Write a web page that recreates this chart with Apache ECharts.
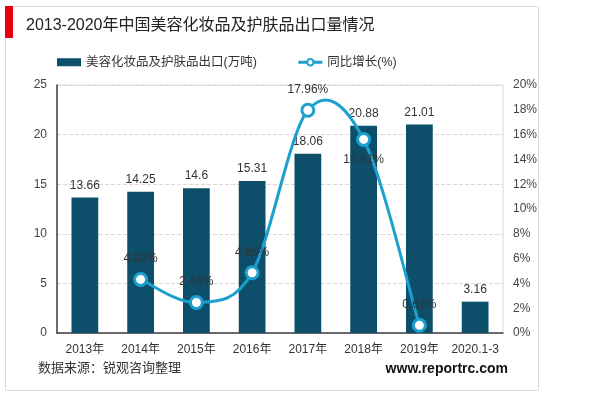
<!DOCTYPE html>
<html>
<head>
<meta charset="utf-8">
<script src="https://cdn.jsdelivr.net/npm/echarts@6/dist/echarts.min.js"></script>
<style>
  html, body { margin: 0; padding: 0; background: #fff; }
  #chart { width: 600px; height: 396px; }
</style>
</head>
<body>
<div id="chart"></div>
<script>
var categories = ['2013年', '2014年', '2015年', '2016年', '2017年', '2018年', '2019年', '2020.1-3'];
var exportValues = [13.66, 14.25, 14.6, 15.31, 18.06, 20.88, 21.01, 3.16];
var growthValues = ['-', 4.32, 2.46, 4.86, 17.96, 15.61, 0.62, '-'];
var growthLabelPos = ['top', 'top', 'top', 'top', 'top', 'bottom', 'top', 'top'];
var leftTicks = { min: 0, max: 25, interval: 5 };
var rightTicks = { min: 0, max: 20, interval: 2 };

var FONT = '"Liberation Sans", "Noto Sans CJK SC", sans-serif';
var barColor = '#0d4f6b';
var lineColor = '#1ca0cf';

var chart = echarts.init(document.getElementById('chart'));

function hasVal(i) {
  return i >= 0 && i < growthValues.length && typeof growthValues[i] === 'number';
}

// 折线标签位置
var growthData = growthValues.map(function(v, i) {
  return { value: v, label: { position: growthLabelPos[i] } };
});

// 平滑曲线段 (Catmull-Rom 转贝塞尔)，坐标全部经由坐标轴换算
function renderCurve(params, api) {
  var i = params.dataIndex;
  if (!hasVal(i) || !hasVal(i + 1)) return;
  var p1 = api.coord([i, growthValues[i]]);
  var p2 = api.coord([i + 1, growthValues[i + 1]]);
  var p0 = hasVal(i - 1) ? api.coord([i - 1, growthValues[i - 1]]) : p1;
  var p3 = hasVal(i + 2) ? api.coord([i + 2, growthValues[i + 2]]) : p2;
  return {
    type: 'bezierCurve',
    shape: {
      x1: p1[0], y1: p1[1],
      x2: p2[0], y2: p2[1],
      cpx1: p1[0] + (p2[0] - p0[0]) / 6, cpy1: p1[1] + (p2[1] - p0[1]) / 6,
      cpx2: p2[0] - (p3[0] - p1[0]) / 6, cpy2: p2[1] - (p3[1] - p1[1]) / 6
    },
    style: { fill: 'none', stroke: lineColor, lineWidth: 3 }
  };
}

var option = {
  backgroundColor: '#fff',
  textStyle: { fontFamily: FONT },
  graphic: [
    { type: 'rect', shape: { x: 5.5, y: 6.5, width: 533, height: 384 },
      style: { fill: 'none', stroke: '#dcdcdc', lineWidth: 1 } },
    { type: 'rect', shape: { x: 5, y: 6, width: 8, height: 32 },
      style: { fill: '#e60012' } },
    { type: 'text', left: 26, top: 18,
      style: { text: '2013-2020年中国美容化妆品及护肤品出口量情况', fill: '#222',
        font: '16px ' + FONT } },
    { type: 'text', left: 38, top: 362,
      style: { text: '数据来源：锐观咨询整理', fill: '#333', font: '13px ' + FONT } },
    { type: 'text', right: 92, top: 362,
      style: { text: 'www.reportrc.com', fill: '#111', font: 'bold 14px ' + FONT } }
  ],
  legend: {
    left: 52,
    top: 51,
    itemGap: 40,
    itemWidth: 24,
    itemHeight: 8,
    textStyle: { fontSize: 12.5, color: '#333', fontFamily: FONT },
    data: [
      { name: '美容化妆品及护肤品出口(万吨)', icon: 'rect' },
      { name: '同比增长(%)', lineStyle: { color: lineColor, width: 3, opacity: 1 } }
    ]
  },
  grid: {
    left: 57,
    right: 97,
    top: 85,
    bottom: 63,
    show: true,
    borderColor: '#d9d9d9',
    borderWidth: 1
  },
  xAxis: {
    type: 'category',
    data: categories,
    axisLine: { lineStyle: { color: '#404040', width: 1.5 } },
    axisTick: { show: false },
    axisLabel: { color: '#333', fontSize: 12, margin: 11, interval: 0 }
  },
  yAxis: [
    {
      type: 'value',
      min: leftTicks.min,
      max: leftTicks.max,
      interval: leftTicks.interval,
      axisLine: { show: true, lineStyle: { color: '#404040', width: 1.5 } },
      axisTick: { show: false },
      axisLabel: { color: '#444', fontSize: 12, margin: 10 },
      splitLine: { lineStyle: { color: '#d9d9d9', type: 'dashed' } }
    },
    {
      type: 'value',
      min: rightTicks.min,
      max: rightTicks.max,
      interval: rightTicks.interval,
      axisLine: { show: false },
      axisTick: { show: false },
      axisLabel: { color: '#444', fontSize: 12, margin: 10, formatter: '{value}%' },
      splitLine: { show: false }
    }
  ],
  series: [
    {
      name: '美容化妆品及护肤品出口(万吨)',
      type: 'bar',
      data: exportValues,
      barWidth: '48%',
      itemStyle: { color: barColor },
      label: { show: true, position: 'top', color: '#333', fontSize: 12, distance: 6 }
    },
    {
      name: 'growthCurve',
      type: 'custom',
      yAxisIndex: 1,
      renderItem: renderCurve,
      data: growthValues.map(function(v, i) { return [i, hasVal(i) ? v : 0]; }),
      silent: true,
      z: 3
    },
    {
      name: '同比增长(%)',
      type: 'line',
      yAxisIndex: 1,
      data: growthData,
      symbol: 'circle',
      symbolSize: 12,
      lineStyle: { color: lineColor, width: 3, opacity: 0 },
      itemStyle: { color: '#fff', borderColor: lineColor, borderWidth: 3 },
      label: { show: true, color: '#333', fontSize: 12, distance: 7, formatter: '{c}%' },
      z: 4
    }
  ]
};

chart.setOption(option);
</script>
</body>
</html>
